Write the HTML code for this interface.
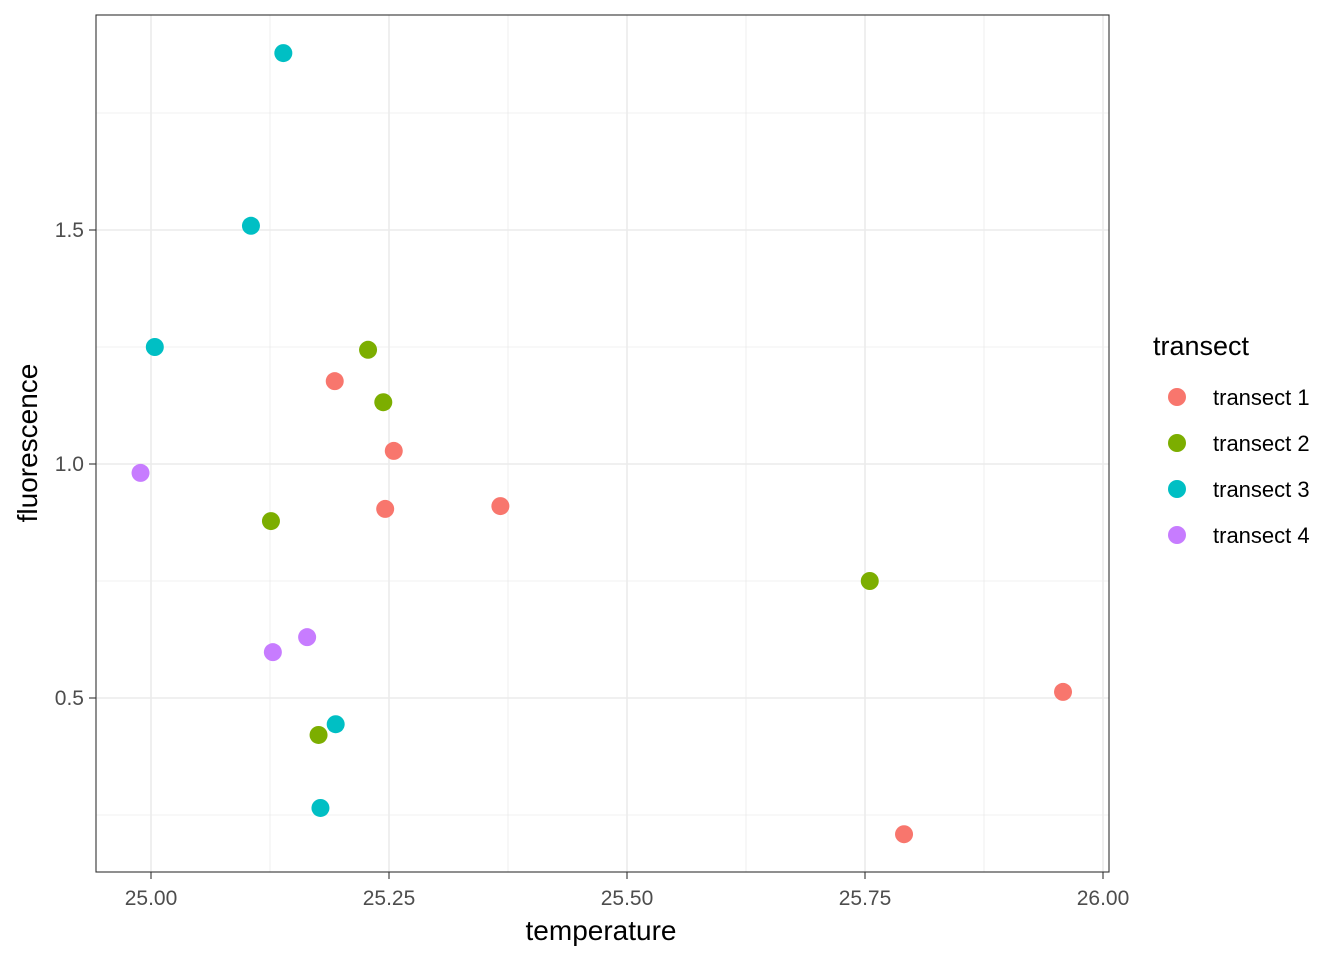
<!DOCTYPE html>
<html><head><meta charset="utf-8"><style>
body{margin:0;background:#fff;font-family:"Liberation Sans",Arial,sans-serif;}
</style></head><body>
<svg id="chart" width="1344" height="960" xmlns="http://www.w3.org/2000/svg">
<rect x="96" y="15" width="1013" height="857" fill="#fff"/>
<g id="grid"></g>
<g id="points"></g>
<rect x="96" y="15" width="1013" height="857" fill="none" stroke="#333" stroke-width="1.1"/>
<g id="axes"></g>
<text x="601" y="940" text-anchor="middle" font-size="28" fill="#000">temperature</text>
<text transform="translate(37,443) rotate(-90)" text-anchor="middle" font-size="28" fill="#000">fluorescence</text>
<g id="legend">
<text x="1153" y="355" font-size="27" fill="#000">transect</text>
</g>
</svg>
<script>
const series = ["transect 1","transect 2","transect 3","transect 4"];
const colors = ["#F8766D","#7CAE00","#00BFC4","#C77CFF"];
const t1x = [25.193,25.255,25.246,25.367,25.791,25.958];
const t1y = [1.177,1.028,0.904,0.910,0.209,0.513];
const t2x = [25.228,25.244,25.126,25.755,25.176];
const t2y = [1.244,1.132,0.878,0.750,0.421];
const t3x = [25.139,25.105,25.004,25.194,25.178];
const t3y = [1.878,1.509,1.250,0.444,0.265];
const t4x = [24.989,25.164,25.128];
const t4y = [0.981,0.630,0.598];
const xTicks = [25.00,25.25,25.50,25.75,26.00];
const xTickLabels = ["25.00","25.25","25.50","25.75","26.00"];
const xMinor = [25.125,25.375,25.625,25.875];
const yTicks = [0.5,1.0,1.5];
const yTickLabels = ["0.5","1.0","1.5"];
const yMinor = [0.25,0.75,1.25,1.75];

const NS="http://www.w3.org/2000/svg";
const X = v => 151 + (v-25)*952;
const Y = v => 464 - (v-1)*468;
function mk(tag, attrs, parent){const e=document.createElementNS(NS,tag);for(const k in attrs)e.setAttribute(k,attrs[k]);parent.appendChild(e);return e;}
const grid=document.getElementById('grid'), pts=document.getElementById('points'), axes=document.getElementById('axes'), leg=document.getElementById('legend');
xMinor.forEach(v=>{const l=mk('line',{x1:X(v),x2:X(v),y1:15,y2:872,stroke:'#ebebeb','stroke-width':0.8},grid);

});
yMinor.forEach(v=>{const l=mk('line',{x1:96,x2:1109,y1:Y(v),y2:Y(v),stroke:'#ebebeb','stroke-width':0.8},grid);

});
xTicks.forEach((v,i)=>{const l=mk('line',{x1:X(v),x2:X(v),y1:15,y2:872,stroke:'#ebebeb','stroke-width':1.6},grid);


const t=mk('line',{x1:X(v),x2:X(v),y1:872,y2:879,stroke:'#333','stroke-width':1.1},axes);


const tx=mk('text',{x:X(v),y:905,'text-anchor':'middle','font-size':21,fill:'#4d4d4d'},axes);tx.textContent=xTickLabels[i];

});
yTicks.forEach((v,i)=>{const l=mk('line',{x1:96,x2:1109,y1:Y(v),y2:Y(v),stroke:'#ebebeb','stroke-width':1.6},grid);


const t=mk('line',{x1:89,x2:96,y1:Y(v),y2:Y(v),stroke:'#333','stroke-width':1.1},axes);


const tx=mk('text',{x:84,y:Y(v)+7,'text-anchor':'end','font-size':21,fill:'#4d4d4d'},axes);tx.textContent=yTickLabels[i];

});
const xs=[t1x,t2x,t3x,t4x], ys=[t1y,t2y,t3y,t4y];
xs.forEach((arr,s)=>arr.forEach((xv,i)=>{const c=mk('circle',{cx:X(xv),cy:Y(ys[s][i]),r:9,fill:colors[s]},pts);

}));
series.forEach((n,i)=>{const cy=397+i*46;
const c=mk('circle',{cx:1177,cy:cy,r:9,fill:colors[i]},leg);


const t=mk('text',{x:1213,y:cy+8,'font-size':22,fill:'#000'},leg);t.textContent=n;

});
</script>
</body></html>
